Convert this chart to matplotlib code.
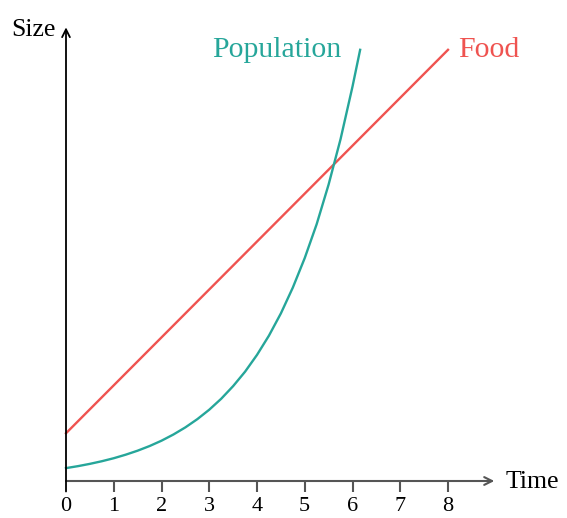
import matplotlib
matplotlib.use("Agg")
import matplotlib.pyplot as plt

# Data
time_ticks = [0, 1, 2, 3, 4, 5, 6, 7, 8]
food_x = [0, 8]
food_y = [1.0, 9.03]
pop_x = [0, 0.25, 0.5, 0.75, 1, 1.25, 1.5, 1.75, 2, 2.25, 2.5, 2.75, 3, 3.25,
         3.5, 3.75, 4, 4.25, 4.5, 4.75, 5, 5.25, 5.5, 5.75, 6, 6.16]
pop_y = [0.27, 0.311, 0.359, 0.414, 0.477, 0.551, 0.635, 0.732, 0.844, 0.974,
         1.123, 1.295, 1.493, 1.722, 1.987, 2.289, 2.641, 3.044, 3.51, 4.05,
         4.67, 5.38, 6.21, 7.16, 8.26, 9.03]

TEAL = "#26a69a"
RED = "#ef5350"
FONT = "Liberation Serif"

fig = plt.figure(figsize=(5.67, 5.18), dpi=100)
W, H = 567, 518
x0px, y0px, unit = 66, 481, 47.75
xmax, ymax = 9.0, 9.5
ax = fig.add_axes([x0px / W, (H - y0px) / H, xmax * unit / W, ymax * unit / H])
ax.set_xlim(0, xmax)
ax.set_ylim(0, ymax)
ax.axis("off")

# Axes with arrows
ax.annotate("", xy=(8.97, 0), xytext=(0, 0), xycoords="data",
            arrowprops=dict(arrowstyle="->", color="#555555", lw=1.5,
                            shrinkA=0, shrinkB=0, mutation_scale=14),
            annotation_clip=False)
ax.annotate("", xy=(0, 9.5), xytext=(0, -0.22), xycoords="data",
            arrowprops=dict(arrowstyle="->", color="black", lw=1.3,
                            shrinkA=0, shrinkB=0, mutation_scale=14),
            annotation_clip=False)

# Ticks
for t in time_ticks:
    if t != 0:
        ax.plot([t, t], [0, -0.22], color="#555555", lw=1.5, clip_on=False,
                solid_capstyle="butt")
    ax.text(t, -0.74, str(t), ha="center", va="bottom", fontsize=16,
            family=FONT, color="black")

# Series
ax.plot(food_x, food_y, color=RED, lw=1.7, clip_on=False)
ax.plot(pop_x, pop_y, color=TEAL, lw=1.7, clip_on=False)

# Labels
ax.text(8.22, 9.03, "Food", ha="left", va="center", fontsize=21.5,
        family=FONT, color=RED)
ax.text(5.76, 9.03, "Population", ha="right", va="center", fontsize=21.5,
        family=FONT, color=TEAL)
ax.text(9.2, -0.03, "Time", ha="left", va="center", fontsize=18.5,
        family=FONT, color="black")
ax.text(-0.22, 9.45, "Size", ha="right", va="center", fontsize=18.5,
        family=FONT, color="black")

fig.savefig("out.png", dpi=100)
